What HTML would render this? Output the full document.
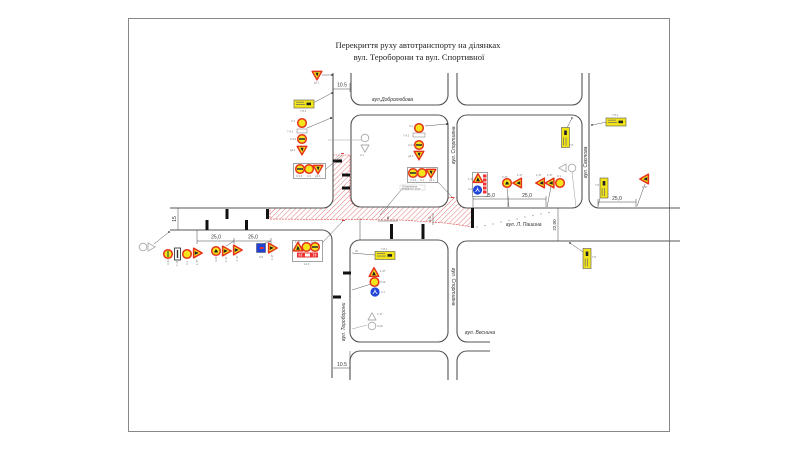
<!DOCTYPE html>
<html><head><meta charset="utf-8"><style>
html,body{margin:0;padding:0;background:#fff;width:800px;height:450px;overflow:hidden}
svg{display:block}
.st{font-family:"Liberation Sans",sans-serif;font-style:italic;font-size:5px;fill:#333}
.lb{font-family:"Liberation Sans",sans-serif;font-size:2.8px;fill:#777}
.dm{font-family:"Liberation Sans",sans-serif;font-size:5px;fill:#333}
</style></head><body>
<svg width="800" height="450" viewBox="0 0 800 450" xmlns="http://www.w3.org/2000/svg">
<defs>
<pattern id="h" width="3.6" height="3.6" patternUnits="userSpaceOnUse" patternTransform="rotate(45)">
<line x1="0" y1="0" x2="0" y2="3.6" stroke="#d85a5a" stroke-width="0.8"/></pattern>
<g id="R"><circle r="4.3" fill="#f6e51b" stroke="#e5321b" stroke-width="1.5"/></g>
<g id="RB"><circle r="4.3" fill="#f6e51b" stroke="#e5321b" stroke-width="1.5"/><rect x="-3" y="-0.8" width="6" height="1.6" fill="#333"/></g>
<g id="RV"><circle r="4.3" fill="#f6e51b" stroke="#e5321b" stroke-width="1.5"/><rect x="-0.7" y="-3" width="1.4" height="6" fill="#3a7a2a"/></g>
<g id="RF"><circle r="4.3" fill="#f6e51b" stroke="#e5321b" stroke-width="1.5"/><path d="M-2,1.5 L-0.5,-1.5 L1,-1 L2,1.5Z" fill="#222"/></g>
<g id="T"><path d="M0,-5.2 L4.8,3.4 L-4.8,3.4Z" fill="#f6e51b" stroke="#e5321b" stroke-width="1.5" stroke-linejoin="round"/><path d="M-1.8,2.2 L-0.3,-1.6 L0.6,-0.4 L1.9,2.2Z" fill="#222"/></g>
<g id="IT"><path d="M-4.8,-3.6 L4.8,-3.6 L0,4.8Z" fill="#f6e51b" stroke="#e5321b" stroke-width="1.5" stroke-linejoin="round"/><path d="M-1.6,-2.3 L1.6,-2.3 L0.3,1.5Z" fill="#222"/></g>
<g id="BR"><circle r="4.6" fill="#2347d8"/><path d="M-2,1.8 L0,-1 L2,1.8 M0,-1 V-2.5" stroke="#fff" stroke-width="0.8" fill="none"/></g>
<g id="BS"><rect x="-4.5" y="-4.5" width="9" height="9" fill="#2240d2" stroke="#333" stroke-width="0.4"/><rect x="-1" y="-1" width="3.5" height="2" fill="#e33"/></g>
<g id="GC"><circle r="3.8" fill="#fff" stroke="#aaa" stroke-width="0.9"/></g>
<g id="GT"><path d="M0,-4.2 L4,3 L-4,3Z" fill="#fff" stroke="#aaa" stroke-width="0.9" stroke-linejoin="round"/></g>
<g id="YH"><rect x="-10" y="-4" width="20" height="8" fill="#f2e41a" stroke="#555" stroke-width="0.6"/><rect x="-8" y="-2.2" width="8" height="0.7" fill="#666"/><rect x="-8" y="0.2" width="9" height="0.7" fill="#666"/><rect x="2.5" y="-1.4" width="4.5" height="2.6" fill="#222"/></g>
<g id="YV"><rect x="-4" y="-10" width="8" height="20" fill="#f2e41a" stroke="#555" stroke-width="0.6"/><rect x="-2.2" y="0" width="0.7" height="8" fill="#666"/><rect x="0.2" y="0" width="0.7" height="8" fill="#666"/><rect x="-1.3" y="-7" width="2.6" height="4.5" fill="#222"/></g>
</defs>

<!-- frame -->
<rect x="128.5" y="18.5" width="541" height="413" fill="none" stroke="#888" stroke-width="1"/>

<!-- title -->
<text x="418" y="48" text-anchor="middle" font-family="Liberation Serif, serif" font-size="8.6" fill="#222">Перекриття руху автотранспорту на ділянках</text>
<text x="419" y="60" text-anchor="middle" font-family="Liberation Serif, serif" font-size="8.6" fill="#222">вул. Тероборони та вул. Спортивної</text>

<!-- hatched closure zone -->
<path d="M270,208 H323 A10,10 0 0 0 333,198 V155 H350 V197 A10,10 0 0 0 361,207 H438 A10,10 0 0 0 448,197 L457,198 A10,10 0 0 0 467,208 H473 V227 L445,223 L400,220 L270,219 Z" fill="url(#h)" stroke="#d44" stroke-width="0.6" stroke-dasharray="2,1"/>

<!-- roads -->
<g fill="none" stroke="#555" stroke-width="1.1">
<path d="M170,208 H323 A10,10 0 0 0 333,198 V73"/>
<path d="M170,230 H322 A10,10 0 0 1 332,240 V378"/>
<path d="M351,73 V95 A10,10 0 0 0 361,105 H438 A10,10 0 0 0 448,95 V73"/>
<path d="M457,73 V95 A10,10 0 0 0 467,105 H572 A10,10 0 0 0 582,95 V73"/>
<rect x="351" y="115" width="97" height="92" rx="10"/>
<rect x="457" y="115" width="125" height="93" rx="10"/>
<path d="M589,73 V198 A10,10 0 0 0 599,208 H680"/>
<path d="M680,241 H467 A10,10 0 0 0 457,251 V332 A10,10 0 0 0 467,342 H490"/>
<rect x="350" y="240" width="98" height="102" rx="10"/>
<path d="M350,380 V361 A10,10 0 0 1 360,351 H438 A10,10 0 0 1 448,361 V380"/>
<path d="M490,351 H467 A10,10 0 0 0 457,361 V380"/>
</g>

<!-- black barriers -->
<g fill="#111">
<rect x="266" y="209" width="3" height="10"/>
<rect x="225.5" y="209" width="3" height="10"/>
<rect x="205.5" y="220" width="3" height="10"/>
<rect x="245" y="220" width="3" height="10"/>
<rect x="333" y="159.5" width="9" height="3"/>
<rect x="342" y="173.5" width="8" height="3"/>
<rect x="342" y="186.5" width="8" height="3"/>
<rect x="390" y="224" width="3" height="15"/>
<rect x="421.5" y="224" width="3" height="15"/>
<rect x="471" y="208" width="3" height="20"/>
<rect x="343" y="271.5" width="8" height="3"/>
<rect x="333" y="295.5" width="8" height="3"/>
</g>

<!-- dimensions -->
<g stroke="#444" stroke-width="0.5" fill="none">
<line x1="333" y1="89" x2="350" y2="89"/><line x1="350" y1="83" x2="350" y2="92"/>
<line x1="178" y1="208" x2="178" y2="230"/>
<line x1="197" y1="230" x2="197" y2="244"/>
<line x1="197" y1="241" x2="271" y2="241"/>
<line x1="234" y1="238" x2="234" y2="244"/><line x1="271" y1="238" x2="271" y2="244"/>
<line x1="473" y1="199" x2="546" y2="199"/>
<line x1="473" y1="196" x2="473" y2="208"/><line x1="508" y1="196" x2="508" y2="207"/><line x1="546" y1="196" x2="546" y2="207"/>
<line x1="598" y1="202" x2="636" y2="202"/><line x1="598" y1="199" x2="598" y2="207"/><line x1="636" y1="199" x2="636" y2="207"/>
<line x1="558" y1="208" x2="558" y2="241"/>
<line x1="378" y1="221" x2="398" y2="221"/>
<line x1="433" y1="213" x2="433" y2="225"/>
<line x1="333" y1="368" x2="350" y2="368"/><line x1="350" y1="351" x2="350" y2="378"/>
<line x1="360" y1="218" x2="360" y2="240"/>
</g>
<g class="dm">
<text x="342" y="86.5" text-anchor="middle">10.5</text>
<text x="342" y="366" text-anchor="middle">10.5</text>
<text transform="translate(176,219) rotate(-90)" text-anchor="middle">15</text>
<text x="216" y="238.5" text-anchor="middle">25,0</text>
<text x="253" y="238.5" text-anchor="middle">25,0</text>
<text x="490" y="197" text-anchor="middle">25,0</text>
<text x="527" y="197" text-anchor="middle">25,0</text>
<text x="617" y="200" text-anchor="middle">25,0</text>
<text transform="translate(556,225) rotate(-90)" text-anchor="middle" font-size="4.5">22,00</text>
<text x="388" y="219" text-anchor="middle" font-size="4">6</text>
<text transform="translate(431,219) rotate(-90)" text-anchor="middle" font-size="3.5">4,0</text>
</g>

<!-- street names -->
<text class="st" x="372" y="101">вул.Добролюбова</text>
<text class="st" transform="translate(455,164) rotate(-90)">вул. Спортивна</text>
<text class="st" transform="translate(452,268) rotate(90)">вул. Спортивна</text>
<text class="st" transform="translate(345,341) rotate(-90)">вул. Тероборони</text>
<text class="st" x="465" y="334">вул. Веснина</text>
<text class="st" x="506" y="226">вул. Л. Пашина</text>
<text class="st" transform="translate(587,178) rotate(-90)">вул. Свєтова</text>

<!-- dotted trail -->
<g fill="#888">
<circle cx="477" cy="227" r="0.6"/><circle cx="485" cy="225.5" r="0.6"/><circle cx="493" cy="224" r="0.6"/><circle cx="501" cy="222" r="0.6"/><circle cx="509" cy="220.5" r="0.6"/><circle cx="517" cy="219" r="0.6"/><circle cx="525" cy="217" r="0.6"/><circle cx="533" cy="215.5" r="0.6"/><circle cx="541" cy="214" r="0.6"/><circle cx="549" cy="212.5" r="0.6"/>
</g>

<!-- leader lines -->
<g stroke="#555" stroke-width="0.5" fill="none">
<line x1="322" y1="75" x2="332" y2="75"/>
<line x1="313" y1="103" x2="332" y2="93"/>
<line x1="307" y1="128" x2="331" y2="118"/>
<line x1="328" y1="140" x2="362" y2="140" stroke="#999"/>
<line x1="325" y1="170" x2="342" y2="155"/>
<line x1="425" y1="126" x2="447" y2="124"/>
<line x1="437" y1="181" x2="453" y2="198"/>
<line x1="402" y1="189" x2="380" y2="215"/>
<line x1="322" y1="243" x2="343" y2="221"/>
<line x1="154" y1="244" x2="169" y2="232"/>
<line x1="226" y1="246" x2="234" y2="241"/>
<line x1="263" y1="244" x2="271" y2="241"/>
<line x1="507" y1="188" x2="509" y2="207"/>
<line x1="551" y1="187" x2="547" y2="207"/>
<line x1="572" y1="172" x2="576" y2="207" stroke="#999"/>
<line x1="567" y1="128" x2="572" y2="118"/>
<line x1="607" y1="122" x2="592" y2="125"/>
<line x1="600" y1="198" x2="598" y2="206"/>
<line x1="645" y1="184" x2="637" y2="206"/>
<line x1="583" y1="252" x2="570" y2="243"/>
<line x1="375" y1="255" x2="352" y2="253"/>
<line x1="371" y1="284" x2="352" y2="290"/>
<line x1="367" y1="325" x2="352" y2="329" stroke="#999"/>
</g>
<g fill="#333">
<circle cx="332" cy="75" r="0.9"/><circle cx="332" cy="93" r="0.9"/><circle cx="331" cy="118" r="1"/><circle cx="447" cy="124" r="1"/><circle cx="169" cy="232" r="0.9"/><circle cx="592" cy="125" r="0.9"/><circle cx="570" cy="243" r="0.9"/><circle cx="572" cy="118" r="0.8"/>
</g>
<g fill="#d44"><rect x="341" y="153" width="3" height="1"/><rect x="451" y="197" width="3" height="1"/><rect x="342" y="220" width="3" height="1"/></g>

<!-- top-left column signs -->
<use href="#IT" x="317" y="75"/>
<text class="lb" x="314" y="83.5">д3.1</text>
<use href="#YH" x="304" y="104"/>
<text class="lb" x="300" y="112">7.8.1</text>
<use href="#R" x="302" y="123"/>
<text class="lb" x="291" y="122">3.1</text>
<rect x="297" y="129" width="10" height="4" fill="#fff" stroke="#777" stroke-width="0.5"/>
<text class="lb" x="287" y="132.5">7.4.2</text>
<use href="#RB" x="302" y="139"/>
<text class="lb" x="290" y="140">3.4.3</text>
<use href="#IT" x="302" y="150"/>
<text class="lb" x="290" y="151">д3.1</text>
<rect x="293.5" y="163.5" width="32" height="15" fill="#fff" stroke="#666" stroke-width="0.6"/>
<use href="#RB" x="300" y="169"/><use href="#R" x="309" y="169"/><use href="#IT" x="318" y="169"/>
<text class="lb" x="296" y="177">3.4.3</text><text class="lb" x="307" y="177">3.1</text><text class="lb" x="315" y="177">д3.1</text>

<!-- block C signs -->
<use href="#GC" x="365" y="138"/><use href="#GT" x="365" y="148" transform="rotate(180 365 148)"/>
<text class="lb" x="360" y="156" fill="#aaa">2.1</text>
<use href="#R" x="419" y="128"/>
<text class="lb" x="409" y="127">3.1</text>
<rect x="413" y="133" width="12" height="4" fill="#fff" stroke="#777" stroke-width="0.5"/>
<text class="lb" x="403" y="136.5">7.4.2</text>
<use href="#RB" x="419" y="145"/>
<text class="lb" x="408" y="146">3.4.3</text>
<use href="#IT" x="419" y="155"/>
<text class="lb" x="408" y="157">д3.1</text>
<rect x="407.5" y="167.5" width="30" height="15" fill="#fff" stroke="#666" stroke-width="0.6"/>
<use href="#RB" x="413" y="173"/><use href="#R" x="422" y="173"/><use href="#IT" x="431" y="173"/>
<text class="lb" x="410" y="181">3.4.3</text><text class="lb" x="420" y="181">3.1</text><text class="lb" x="429" y="181">д3.1</text>
<rect x="400" y="185" width="25" height="5" fill="#fff" stroke="#aaa" stroke-width="0.3"/>
<text class="lb" x="402" y="187.5" font-size="2">Обмеження</text>
<text class="lb" x="401" y="189.7" font-size="2">швидкості руху</text>

<!-- block D signs -->
<rect x="472.5" y="172.5" width="15" height="24" fill="#fff" stroke="#666" stroke-width="0.6"/>
<use href="#T" x="478" y="179"/>
<use href="#BR" x="477.5" y="190"/>
<g fill="#e33"><rect x="483" y="174.5" width="3.5" height="3"/><rect x="483" y="178.5" width="3.5" height="3"/><rect x="483" y="182.5" width="3.5" height="3"/><rect x="483" y="186.5" width="3.5" height="3"/><rect x="483" y="190.5" width="3.5" height="3"/></g>
<text class="lb" x="468" y="180">1.37</text><text class="lb" x="468" y="190">4.1</text>
<use href="#RF" x="507" y="183"/>
<use href="#T" transform="translate(518,183) rotate(-90)"/>
<text class="lb" x="502" y="178">3.29</text><text class="lb" x="517" y="176">1.37</text>
<use href="#T" transform="translate(541,183) rotate(-90)"/>
<use href="#T" transform="translate(550.5,183) rotate(-90)"/>
<use href="#R" x="560" y="183"/>
<text class="lb" x="536" y="176">1.37</text><text class="lb" x="547" y="176">1.37</text><text class="lb" x="557" y="177">3.1</text>
<use href="#GT" transform="translate(563,168) rotate(-90)"/><use href="#GC" x="572" y="168"/>
<use href="#YV" x="565.5" y="137.5"/>
<text class="lb" x="569" y="146">7.8</text>

<!-- right area signs -->
<use href="#YH" x="616" y="122"/>
<text class="lb" x="612" y="116">7.8.1</text>
<use href="#YV" x="604" y="188"/>
<text class="lb" x="595" y="186">7.8</text>
<use href="#T" transform="translate(645,179) rotate(-90)"/>
<text class="lb" x="642" y="188">1.37</text>
<use href="#YV" x="587" y="258.5"/>
<text class="lb" x="592" y="258">7.8</text>

<!-- lower-left signs -->
<use href="#GC" x="143" y="247"/><use href="#GT" transform="translate(151,247) rotate(90)"/>
<use href="#RV" x="168" y="254"/>
<rect x="174.5" y="248" width="6" height="12" fill="#fff" stroke="#222" stroke-width="0.8"/>
<rect x="176.8" y="250" width="1.4" height="8" fill="#333"/>
<use href="#R" x="187" y="254"/>
<use href="#T" transform="translate(197,253) rotate(90)"/>
<text class="lb" transform="translate(169,265) rotate(-90)">3.43</text>
<text class="lb" transform="translate(178,266) rotate(-90)">7.11</text>
<text class="lb" transform="translate(188,265) rotate(-90)">3.1</text>
<text class="lb" transform="translate(198,265) rotate(-90)">1.37</text>
<use href="#RF" x="216" y="251"/>
<use href="#T" transform="translate(226,251) rotate(90)"/>
<use href="#T" transform="translate(237,250) rotate(90)"/>
<text class="lb" transform="translate(217,262) rotate(-90)">3.29</text>
<text class="lb" transform="translate(227,262) rotate(-90)">1.37</text>
<text class="lb" transform="translate(238,261) rotate(-90)">1.37</text>
<use href="#BS" x="261" y="248"/>
<use href="#T" transform="translate(272,248) rotate(90)"/>
<text class="lb" x="259" y="258">6.8</text>
<text class="lb" transform="translate(273,260) rotate(-90)">1.37</text>
<rect x="292.5" y="240.5" width="30" height="21" fill="#fff" stroke="#666" stroke-width="0.6"/>
<text class="lb" x="295" y="243">1.37</text><text class="lb" x="304" y="243">3.1</text><text class="lb" x="311" y="243">3.43</text>
<use href="#T" x="298" y="247.5"/>
<use href="#R" x="306.5" y="247"/><use href="#RB" x="315" y="247"/>
<rect x="297" y="252.5" width="21" height="5" fill="#e33"/>
<path d="M300,253.5 L298.8,255 L300,256.5 M302,253.5 L300.8,255 L302,256.5 M313,253.5 L314.2,255 L313,256.5 M315,253.5 L316.2,255 L315,256.5" stroke="#fff" stroke-width="0.6" fill="none"/>
<rect x="305" y="253.5" width="5" height="3" fill="#fff"/>
<text class="lb" x="304" y="265">14.3</text>

<!-- lower block E signs -->
<use href="#YH" x="385" y="255.5"/>
<text class="lb" x="381" y="250">7.8.1</text>
<text class="lb" x="355" y="252" font-size="3.5">20</text>
<use href="#T" x="374" y="273"/>
<text class="lb" x="380" y="272">1.37</text>
<use href="#R" x="374.5" y="282"/>
<text class="lb" x="380" y="283">3.29</text>
<use href="#BR" x="375" y="292"/>
<text class="lb" x="381" y="293">4.1</text>
<use href="#GT" x="372" y="317"/><use href="#GC" x="372" y="326"/>
<text class="lb" x="377" y="315" fill="#aaa">1.37</text><text class="lb" x="377" y="327" fill="#aaa">3.29</text>
</svg>
</body></html>
